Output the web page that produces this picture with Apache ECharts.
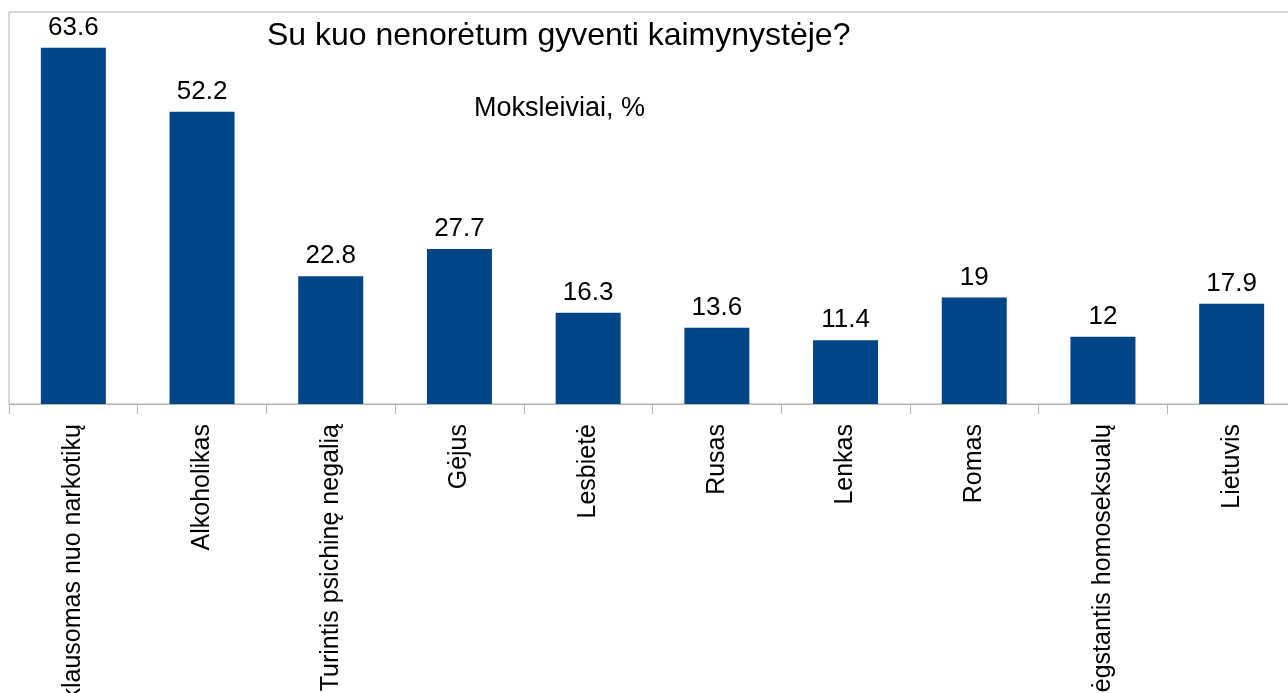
<!DOCTYPE html>
<html>
<head>
<meta charset="utf-8">
<script src="https://cdn.jsdelivr.net/npm/echarts@6/dist/echarts.min.js"></script>
<style>
  html, body { margin: 0; padding: 0; background: #fff; }
  #chart { width: 1288px; height: 693px; }
</style>
</head>
<body>
<div id="chart"></div>
<script>
    // categories and values
    var categories = [
        'Priklausomas nuo narkotikų',
        'Alkoholikas',
        'Turintis psichinę negalią',
        'Gėjus',
        'Lesbietė',
        'Rusas',
        'Lenkas',
        'Romas',
        'Nemėgstantis homoseksualų',
        'Lietuvis'
    ];
    var values = [63.6, 52.2, 22.8, 27.7, 16.3, 13.6, 11.4, 19, 12, 17.9];

    var titleText = 'Su kuo nenorėtum gyventi kaimynystėje?';
    var subtitleText = 'Moksleiviai, %';

    var chart = echarts.init(document.getElementById('chart'));
    var font = '"Liberation Sans", Arial, sans-serif';

    var option = {
        backgroundColor: '#fff',
        animation: false,
        title: [
            {
                text: titleText,
                left: 262,
                top: 15,
                textStyle: { fontFamily: font, fontSize: 32, fontWeight: 'normal', color: '#000' }
            },
            {
                text: subtitleText,
                left: 469,
                top: 90,
                textStyle: { fontFamily: font, fontSize: 27, fontWeight: 'normal', color: '#000' }
            }
        ],
        grid: {
            left: 9,
            top: 12,
            width: 1287,
            bottom: 289,
            containLabel: false,
            outerBoundsMode: 'none',
            show: true,
            borderColor: '#b3b3b3',
            borderWidth: 1
        },
        xAxis: {
            type: 'category',
            data: categories,
            axisLine: { lineStyle: { color: '#b3b3b3', width: 1 } },
            axisTick: { show: true, length: 10, lineStyle: { color: '#b3b3b3' } },
            axisLabel: {
                rotate: 90,
                interval: 0,
                margin: 20,
                fontFamily: font,
                fontSize: 25,
                color: '#000'
            }
        },
        yAxis: {
            type: 'value',
            min: 0,
            max: 70,
            axisLine: { show: false },
            axisTick: { show: false },
            axisLabel: { show: false },
            splitLine: { show: false }
        },
        series: [
            {
                type: 'bar',
                data: values,
                barWidth: '50.5%',
                itemStyle: { color: '#004586' },
                label: {
                    show: true,
                    position: 'top',
                    distance: 7,
                    fontFamily: font,
                    fontSize: 26,
                    color: '#000'
                }
            }
        ]
    };

    chart.setOption(option);
</script>
</body>
</html>
